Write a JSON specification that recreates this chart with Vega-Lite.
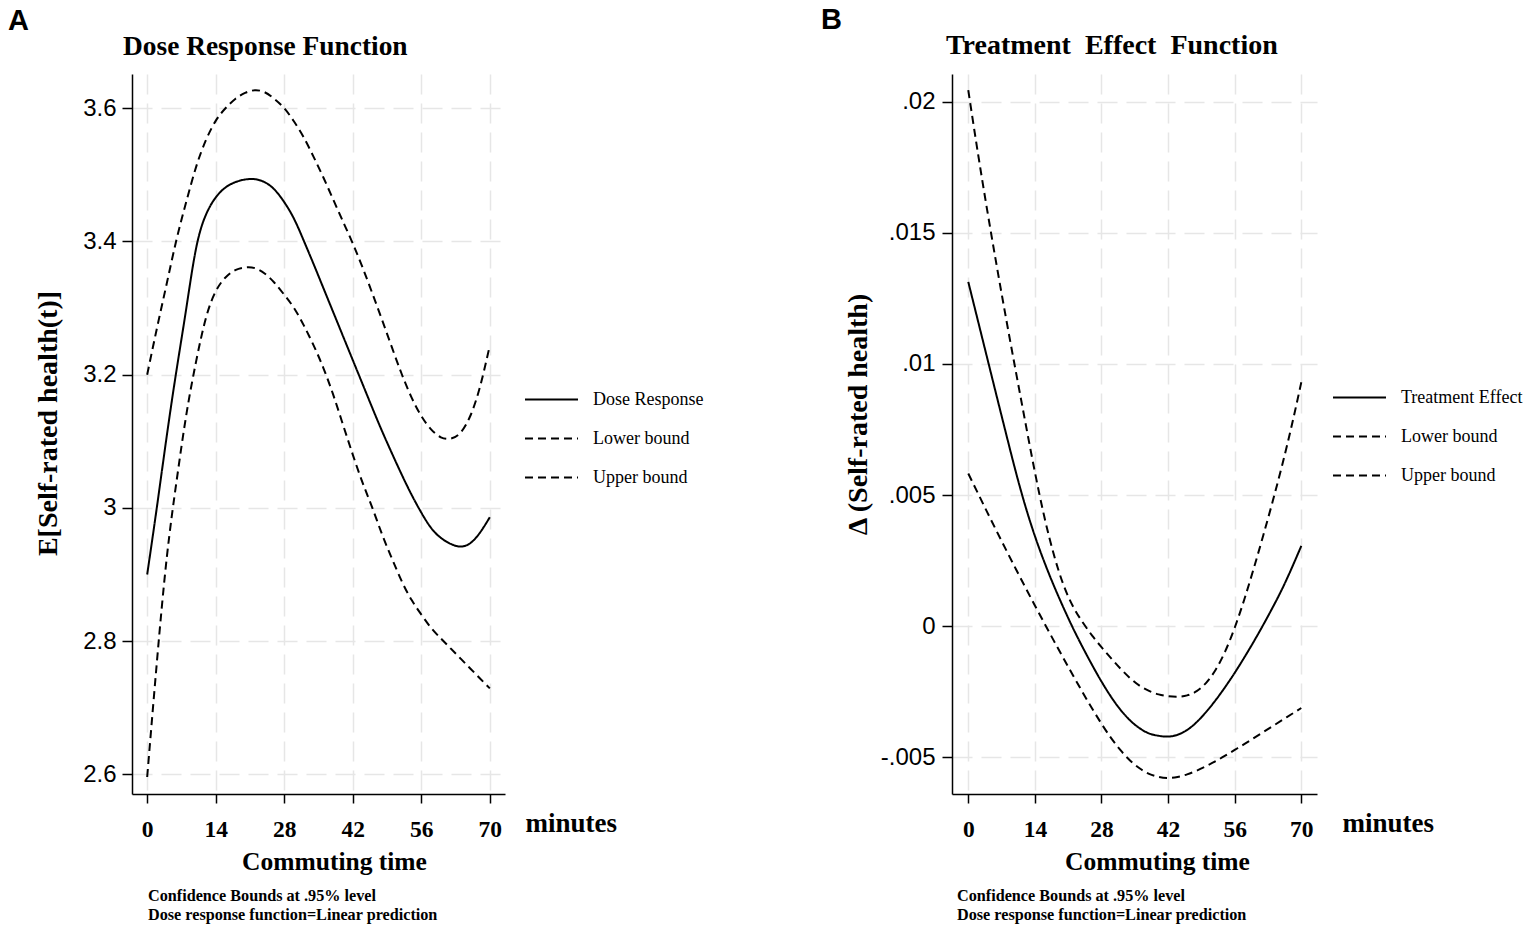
{
  "$schema": "https://vega.github.io/schema/vega-lite/v6.json",
  "background": "white",
  "padding": {"left": 8, "top": 6, "right": 5, "bottom": 0},
  "spacing": 117,
  "config": {
    "view": {"stroke": null},
    "font": "Liberation Serif",
    "axis": {
      "domainColor": "black",
      "domainWidth": 1.5,
      "tickColor": "black",
      "tickWidth": 1.5,
      "gridColor": "#e6e6e6",
      "gridDash": [20, 9],
      "gridWidth": 1.5,
      "titleFont": "Liberation Serif",
      "titleFontWeight": "bold",
      "titleColor": "black",
      "labelColor": "black"
    },
    "legend": {
      "orient": "none",
      "title": null,
      "symbolType": "stroke",
      "symbolSize": 2809,
      "symbolStrokeWidth": 2,
      "symbolStrokeColor": "black",
      "labelFont": "Liberation Serif",
      "labelFontSize": 18,
      "labelColor": "black",
      "labelOffset": 14,
      "rowPadding": 2
    },
    "title": {"color": "black", "font": "Liberation Serif", "fontWeight": "bold"}
  },
  "resolve": {"scale": {"strokeDash": "independent"}, "legend": {"strokeDash": "independent"}},
  "datasets": {
    "dr": [
      {"t": 0, "v": 2.900, "s": "Dose Response"}, {"t": 0, "v": 2.596, "s": "Lower bound"}, {"t": 0, "v": 3.200, "s": "Upper bound"},
      {"t": 2, "v": 3.002, "s": "Dose Response"}, {"t": 2, "v": 2.770, "s": "Lower bound"}, {"t": 2, "v": 3.270, "s": "Upper bound"},
      {"t": 4, "v": 3.108, "s": "Dose Response"}, {"t": 4, "v": 2.925, "s": "Lower bound"}, {"t": 4, "v": 3.337, "s": "Upper bound"},
      {"t": 6, "v": 3.207, "s": "Dose Response"}, {"t": 6, "v": 3.040, "s": "Lower bound"}, {"t": 6, "v": 3.403, "s": "Upper bound"},
      {"t": 8, "v": 3.300, "s": "Dose Response"}, {"t": 8, "v": 3.140, "s": "Lower bound"}, {"t": 8, "v": 3.460, "s": "Upper bound"},
      {"t": 10, "v": 3.390, "s": "Dose Response"}, {"t": 10, "v": 3.220, "s": "Lower bound"}, {"t": 10, "v": 3.512, "s": "Upper bound"},
      {"t": 12, "v": 3.440, "s": "Dose Response"}, {"t": 12, "v": 3.285, "s": "Lower bound"}, {"t": 12, "v": 3.552, "s": "Upper bound"},
      {"t": 14, "v": 3.466, "s": "Dose Response"}, {"t": 14, "v": 3.325, "s": "Lower bound"}, {"t": 14, "v": 3.581, "s": "Upper bound"},
      {"t": 16, "v": 3.481, "s": "Dose Response"}, {"t": 16, "v": 3.346, "s": "Lower bound"}, {"t": 16, "v": 3.600, "s": "Upper bound"},
      {"t": 18, "v": 3.489, "s": "Dose Response"}, {"t": 18, "v": 3.357, "s": "Lower bound"}, {"t": 18, "v": 3.614, "s": "Upper bound"},
      {"t": 20, "v": 3.493, "s": "Dose Response"}, {"t": 20, "v": 3.361, "s": "Lower bound"}, {"t": 20, "v": 3.623, "s": "Upper bound"},
      {"t": 22, "v": 3.4935, "s": "Dose Response"}, {"t": 22, "v": 3.360, "s": "Lower bound"}, {"t": 22, "v": 3.627, "s": "Upper bound"},
      {"t": 24, "v": 3.489, "s": "Dose Response"}, {"t": 24, "v": 3.352, "s": "Lower bound"}, {"t": 24, "v": 3.624, "s": "Upper bound"},
      {"t": 26, "v": 3.478, "s": "Dose Response"}, {"t": 26, "v": 3.338, "s": "Lower bound"}, {"t": 26, "v": 3.614, "s": "Upper bound"},
      {"t": 28, "v": 3.459, "s": "Dose Response"}, {"t": 28, "v": 3.320, "s": "Lower bound"}, {"t": 28, "v": 3.600, "s": "Upper bound"},
      {"t": 30, "v": 3.434, "s": "Dose Response"}, {"t": 30, "v": 3.300, "s": "Lower bound"}, {"t": 30, "v": 3.580, "s": "Upper bound"},
      {"t": 32, "v": 3.401, "s": "Dose Response"}, {"t": 32, "v": 3.274, "s": "Lower bound"}, {"t": 32, "v": 3.556, "s": "Upper bound"},
      {"t": 34, "v": 3.366, "s": "Dose Response"}, {"t": 34, "v": 3.244, "s": "Lower bound"}, {"t": 34, "v": 3.527, "s": "Upper bound"},
      {"t": 36, "v": 3.330, "s": "Dose Response"}, {"t": 36, "v": 3.210, "s": "Lower bound"}, {"t": 36, "v": 3.496, "s": "Upper bound"},
      {"t": 38, "v": 3.294, "s": "Dose Response"}, {"t": 38, "v": 3.170, "s": "Lower bound"}, {"t": 38, "v": 3.463, "s": "Upper bound"},
      {"t": 40, "v": 3.258, "s": "Dose Response"}, {"t": 40, "v": 3.125, "s": "Lower bound"}, {"t": 40, "v": 3.430, "s": "Upper bound"},
      {"t": 42, "v": 3.222, "s": "Dose Response"}, {"t": 42, "v": 3.080, "s": "Lower bound"}, {"t": 42, "v": 3.397, "s": "Upper bound"},
      {"t": 44, "v": 3.186, "s": "Dose Response"}, {"t": 44, "v": 3.038, "s": "Lower bound"}, {"t": 44, "v": 3.361, "s": "Upper bound"},
      {"t": 46, "v": 3.150, "s": "Dose Response"}, {"t": 46, "v": 3.000, "s": "Lower bound"}, {"t": 46, "v": 3.322, "s": "Upper bound"},
      {"t": 48, "v": 3.115, "s": "Dose Response"}, {"t": 48, "v": 2.960, "s": "Lower bound"}, {"t": 48, "v": 3.282, "s": "Upper bound"},
      {"t": 50, "v": 3.082, "s": "Dose Response"}, {"t": 50, "v": 2.924, "s": "Lower bound"}, {"t": 50, "v": 3.241, "s": "Upper bound"},
      {"t": 52, "v": 3.050, "s": "Dose Response"}, {"t": 52, "v": 2.890, "s": "Lower bound"}, {"t": 52, "v": 3.201, "s": "Upper bound"},
      {"t": 54, "v": 3.020, "s": "Dose Response"}, {"t": 54, "v": 2.862, "s": "Lower bound"}, {"t": 54, "v": 3.166, "s": "Upper bound"},
      {"t": 56, "v": 2.993, "s": "Dose Response"}, {"t": 56, "v": 2.840, "s": "Lower bound"}, {"t": 56, "v": 3.138, "s": "Upper bound"},
      {"t": 58, "v": 2.970, "s": "Dose Response"}, {"t": 58, "v": 2.820, "s": "Lower bound"}, {"t": 58, "v": 3.118, "s": "Upper bound"},
      {"t": 60, "v": 2.955, "s": "Dose Response"}, {"t": 60, "v": 2.804, "s": "Lower bound"}, {"t": 60, "v": 3.106, "s": "Upper bound"},
      {"t": 62, "v": 2.946, "s": "Dose Response"}, {"t": 62, "v": 2.789, "s": "Lower bound"}, {"t": 62, "v": 3.104, "s": "Upper bound"},
      {"t": 64, "v": 2.942, "s": "Dose Response"}, {"t": 64, "v": 2.774, "s": "Lower bound"}, {"t": 64, "v": 3.113, "s": "Upper bound"},
      {"t": 66, "v": 2.947, "s": "Dose Response"}, {"t": 66, "v": 2.759, "s": "Lower bound"}, {"t": 66, "v": 3.138, "s": "Upper bound"},
      {"t": 68, "v": 2.963, "s": "Dose Response"}, {"t": 68, "v": 2.744, "s": "Lower bound"}, {"t": 68, "v": 3.182, "s": "Upper bound"},
      {"t": 70, "v": 2.986, "s": "Dose Response"}, {"t": 70, "v": 2.729, "s": "Lower bound"}, {"t": 70, "v": 3.244, "s": "Upper bound"}
    ],
    "te": [
      {"t": 0, "v": 0.01313, "s": "Treatment Effect"}, {"t": 0, "v": 0.00582, "s": "Lower bound"}, {"t": 0, "v": 0.02044, "s": "Upper bound"},
      {"t": 2, "v": 0.01167, "s": "Treatment Effect"}, {"t": 2, "v": 0.00508, "s": "Lower bound"}, {"t": 2, "v": 0.01807, "s": "Upper bound"},
      {"t": 4, "v": 0.01021, "s": "Treatment Effect"}, {"t": 4, "v": 0.00434, "s": "Lower bound"}, {"t": 4, "v": 0.01584, "s": "Upper bound"},
      {"t": 6, "v": 0.00875, "s": "Treatment Effect"}, {"t": 6, "v": 0.00361, "s": "Lower bound"}, {"t": 6, "v": 0.01372, "s": "Upper bound"},
      {"t": 8, "v": 0.00730, "s": "Treatment Effect"}, {"t": 8, "v": 0.00289, "s": "Lower bound"}, {"t": 8, "v": 0.01168, "s": "Upper bound"},
      {"t": 10, "v": 0.00588, "s": "Treatment Effect"}, {"t": 10, "v": 0.00218, "s": "Lower bound"}, {"t": 10, "v": 0.00971, "s": "Upper bound"},
      {"t": 12, "v": 0.00458, "s": "Treatment Effect"}, {"t": 12, "v": 0.00148, "s": "Lower bound"}, {"t": 12, "v": 0.00777, "s": "Upper bound"},
      {"t": 14, "v": 0.00344, "s": "Treatment Effect"}, {"t": 14, "v": 0.00079, "s": "Lower bound"}, {"t": 14, "v": 0.00588, "s": "Upper bound"},
      {"t": 16, "v": 0.00244, "s": "Treatment Effect"}, {"t": 16, "v": 0.00011, "s": "Lower bound"}, {"t": 16, "v": 0.00416, "s": "Upper bound"},
      {"t": 18, "v": 0.00154, "s": "Treatment Effect"}, {"t": 18, "v": -0.00056, "s": "Lower bound"}, {"t": 18, "v": 0.00272, "s": "Upper bound"},
      {"t": 20, "v": 0.00071, "s": "Treatment Effect"}, {"t": 20, "v": -0.00122, "s": "Lower bound"}, {"t": 20, "v": 0.00158, "s": "Upper bound"},
      {"t": 22, "v": -0.00007, "s": "Treatment Effect"}, {"t": 22, "v": -0.00187, "s": "Lower bound"}, {"t": 22, "v": 0.00076, "s": "Upper bound"},
      {"t": 24, "v": -0.00079, "s": "Treatment Effect"}, {"t": 24, "v": -0.00251, "s": "Lower bound"}, {"t": 24, "v": 0.00016, "s": "Upper bound"},
      {"t": 26, "v": -0.00147, "s": "Treatment Effect"}, {"t": 26, "v": -0.00313, "s": "Lower bound"}, {"t": 26, "v": -0.00035, "s": "Upper bound"},
      {"t": 28, "v": -0.00211, "s": "Treatment Effect"}, {"t": 28, "v": -0.00372, "s": "Lower bound"}, {"t": 28, "v": -0.00080, "s": "Upper bound"},
      {"t": 30, "v": -0.00269, "s": "Treatment Effect"}, {"t": 30, "v": -0.00426, "s": "Lower bound"}, {"t": 30, "v": -0.00122, "s": "Upper bound"},
      {"t": 32, "v": -0.00319, "s": "Treatment Effect"}, {"t": 32, "v": -0.00473, "s": "Lower bound"}, {"t": 32, "v": -0.00162, "s": "Upper bound"},
      {"t": 34, "v": -0.00359, "s": "Treatment Effect"}, {"t": 34, "v": -0.00512, "s": "Lower bound"}, {"t": 34, "v": -0.00198, "s": "Upper bound"},
      {"t": 36, "v": -0.00389, "s": "Treatment Effect"}, {"t": 36, "v": -0.00542, "s": "Lower bound"}, {"t": 36, "v": -0.00227, "s": "Upper bound"},
      {"t": 38, "v": -0.00409, "s": "Treatment Effect"}, {"t": 38, "v": -0.00563, "s": "Lower bound"}, {"t": 38, "v": -0.00247, "s": "Upper bound"},
      {"t": 40, "v": -0.00418, "s": "Treatment Effect"}, {"t": 40, "v": -0.00575, "s": "Lower bound"}, {"t": 40, "v": -0.00260, "s": "Upper bound"},
      {"t": 42, "v": -0.00421, "s": "Treatment Effect"}, {"t": 42, "v": -0.00579, "s": "Lower bound"}, {"t": 42, "v": -0.00267, "s": "Upper bound"},
      {"t": 44, "v": -0.00414, "s": "Treatment Effect"}, {"t": 44, "v": -0.00575, "s": "Lower bound"}, {"t": 44, "v": -0.00269, "s": "Upper bound"},
      {"t": 46, "v": -0.00396, "s": "Treatment Effect"}, {"t": 46, "v": -0.00565, "s": "Lower bound"}, {"t": 46, "v": -0.00264, "s": "Upper bound"},
      {"t": 48, "v": -0.00366, "s": "Treatment Effect"}, {"t": 48, "v": -0.00551, "s": "Lower bound"}, {"t": 48, "v": -0.00248, "s": "Upper bound"},
      {"t": 50, "v": -0.00327, "s": "Treatment Effect"}, {"t": 50, "v": -0.00534, "s": "Lower bound"}, {"t": 50, "v": -0.00216, "s": "Upper bound"},
      {"t": 52, "v": -0.00282, "s": "Treatment Effect"}, {"t": 52, "v": -0.00515, "s": "Lower bound"}, {"t": 52, "v": -0.00166, "s": "Upper bound"},
      {"t": 54, "v": -0.00232, "s": "Treatment Effect"}, {"t": 54, "v": -0.00494, "s": "Lower bound"}, {"t": 54, "v": -0.00096, "s": "Upper bound"},
      {"t": 56, "v": -0.00178, "s": "Treatment Effect"}, {"t": 56, "v": -0.00472, "s": "Lower bound"}, {"t": 56, "v": -0.00006, "s": "Upper bound"},
      {"t": 58, "v": -0.00120, "s": "Treatment Effect"}, {"t": 58, "v": -0.00450, "s": "Lower bound"}, {"t": 58, "v": 0.00101, "s": "Upper bound"},
      {"t": 60, "v": -0.00059, "s": "Treatment Effect"}, {"t": 60, "v": -0.00427, "s": "Lower bound"}, {"t": 60, "v": 0.00220, "s": "Upper bound"},
      {"t": 62, "v": 0.00005, "s": "Treatment Effect"}, {"t": 62, "v": -0.00404, "s": "Lower bound"}, {"t": 62, "v": 0.00346, "s": "Upper bound"},
      {"t": 64, "v": 0.00072, "s": "Treatment Effect"}, {"t": 64, "v": -0.00381, "s": "Lower bound"}, {"t": 64, "v": 0.00477, "s": "Upper bound"},
      {"t": 66, "v": 0.00143, "s": "Treatment Effect"}, {"t": 66, "v": -0.00358, "s": "Lower bound"}, {"t": 66, "v": 0.00616, "s": "Upper bound"},
      {"t": 68, "v": 0.00222, "s": "Treatment Effect"}, {"t": 68, "v": -0.00335, "s": "Lower bound"}, {"t": 68, "v": 0.00766, "s": "Upper bound"},
      {"t": 70, "v": 0.00306, "s": "Treatment Effect"}, {"t": 70, "v": -0.00312, "s": "Lower bound"}, {"t": 70, "v": 0.00930, "s": "Upper bound"}
    ]
  },
  "hconcat": [
    {
      "title": {"text": "A", "anchor": "start", "frame": "bounds", "font": "Liberation Sans", "fontSize": 29, "fontWeight": "bold", "dx": -26, "offset": -3},
      "resolve": {"scale": {"strokeDash": "independent"}, "legend": {"strokeDash": "independent"}},
      "vconcat": [
        {
          "title": {"text": ["Confidence Bounds at .95% level", "Dose response function=Linear prediction"], "orient": "bottom", "anchor": "start", "frame": "bounds", "fontSize": 16.2, "fontWeight": "bold", "lineHeight": 19.5, "dx": 114, "offset": 13},
          "resolve": {"scale": {"strokeDash": "independent"}, "legend": {"strokeDash": "independent"}},
          "vconcat": [
            {
              "width": 373,
              "height": 720,
              "title": {"text": "Dose Response Function", "anchor": "start", "frame": "group", "fontSize": 27.4, "fontWeight": "bold", "dx": -9, "offset": 14},
              "data": {"name": "dr"},
              "resolve": {"axis": {"x": "independent", "y": "independent"}},
              "layer": [
                {
                  "mark": {"type": "line", "color": "black", "strokeWidth": 2, "interpolate": "natural"},
                  "encoding": {
                    "x": {
                      "field": "t", "type": "quantitative",
                      "scale": {"domain": [-3.1, 73.1], "nice": false, "zero": false},
                      "axis": {"orient": "bottom", "values": [0, 14, 28, 42, 56, 70], "title": "Commuting time", "titleFontSize": 25.5, "titleX": 202, "titleY": 75, "titleBaseline": "alphabetic", "labelFont": "Liberation Serif", "labelFontWeight": "bold", "labelFontSize": 23.5, "tickSize": 9, "labelPadding": 14, "grid": true}
                    },
                    "y": {
                      "field": "v", "type": "quantitative",
                      "scale": {"domain": [2.5705, 3.6514], "nice": false, "zero": false},
                      "axis": {"orient": "left", "values": [2.6, 2.8, 3, 3.2, 3.4, 3.6], "format": "~g", "title": "E[Self-rated health(t)]", "titleFontSize": 28, "titleX": -84, "titleY": 349, "titleBaseline": "middle", "labelFont": "Liberation Sans", "labelFontSize": 24, "tickSize": 10, "labelPadding": 6, "grid": true}
                    },
                    "strokeDash": {
                      "field": "s", "type": "nominal",
                      "scale": {"domain": ["Dose Response", "Lower bound", "Upper bound"], "range": [[1, 0], [8, 5], [8, 5]]},
                      "legend": {"legendX": 392, "legendY": 298}
                    }
                  }
                },
                {
                  "mark": {"type": "line", "strokeOpacity": 0},
                  "encoding": {
                    "x": {
                      "field": "t", "type": "quantitative",
                      "axis": {"orient": "top", "labels": false, "ticks": false, "domain": false, "grid": false, "title": "minutes", "titleFontSize": 27, "titleX": 393, "titleY": 757, "titleAlign": "left", "titleBaseline": "alphabetic"}
                    },
                    "y": {"field": "v", "type": "quantitative", "axis": null},
                    "detail": {"field": "s", "type": "nominal"}
                  }
                }
              ]
            }
          ]
        }
      ]
    },
    {
      "title": {"text": "B", "anchor": "start", "frame": "bounds", "font": "Liberation Sans", "fontSize": 29, "fontWeight": "bold", "dx": -23, "offset": -3},
      "resolve": {"scale": {"strokeDash": "independent"}, "legend": {"strokeDash": "independent"}},
      "vconcat": [
        {
          "title": {"text": ["Confidence Bounds at .95% level", "Dose response function=Linear prediction"], "orient": "bottom", "anchor": "start", "frame": "bounds", "fontSize": 16.2, "fontWeight": "bold", "lineHeight": 19.5, "dx": 113, "offset": 13},
          "resolve": {"scale": {"strokeDash": "independent"}, "legend": {"strokeDash": "independent"}},
          "vconcat": [
            {
              "width": 365,
              "height": 720,
              "title": {"text": "Treatment\u00a0 Effect\u00a0 Function", "anchor": "start", "frame": "group", "fontSize": 28, "fontWeight": "bold", "dx": -6, "offset": 14},
              "data": {"name": "te"},
              "resolve": {"axis": {"x": "independent", "y": "independent"}},
              "layer": [
                {
                  "mark": {"type": "line", "color": "black", "strokeWidth": 2, "interpolate": "natural"},
                  "encoding": {
                    "x": {
                      "field": "t", "type": "quantitative",
                      "scale": {"domain": [-3.42, 73.3], "nice": false, "zero": false},
                      "axis": {"orient": "bottom", "values": [0, 14, 28, 42, 56, 70], "title": "Commuting time", "titleFontSize": 25.5, "titleX": 205, "titleY": 75, "titleBaseline": "alphabetic", "labelFont": "Liberation Serif", "labelFontWeight": "bold", "labelFontSize": 23.5, "tickSize": 9, "labelPadding": 14, "grid": true}
                    },
                    "y": {
                      "field": "v", "type": "quantitative",
                      "scale": {"domain": [-0.0064, 0.021057], "nice": false, "zero": false},
                      "axis": {"orient": "left", "values": [-0.005, 0, 0.005, 0.01, 0.015, 0.02], "labelExpr": "replace(replace(format(datum.value, '~g'), '\u2212', '-'), '0.', '.')", "title": "\u0394 (Self-rated health)", "titleFontSize": 28, "titleX": -94, "titleY": 340, "titleBaseline": "middle", "labelFont": "Liberation Sans", "labelFontSize": 24, "tickSize": 10, "labelPadding": 7, "grid": true}
                    },
                    "strokeDash": {
                      "field": "s", "type": "nominal",
                      "scale": {"domain": ["Treatment Effect", "Lower bound", "Upper bound"], "range": [[1, 0], [8, 5], [8, 5]]},
                      "legend": {"legendX": 380, "legendY": 296}
                    }
                  }
                },
                {
                  "mark": {"type": "line", "strokeOpacity": 0},
                  "encoding": {
                    "x": {
                      "field": "t", "type": "quantitative",
                      "axis": {"orient": "top", "labels": false, "ticks": false, "domain": false, "grid": false, "title": "minutes", "titleFontSize": 27, "titleX": 390, "titleY": 757, "titleAlign": "left", "titleBaseline": "alphabetic"}
                    },
                    "y": {"field": "v", "type": "quantitative", "axis": null},
                    "detail": {"field": "s", "type": "nominal"}
                  }
                }
              ]
            }
          ]
        }
      ]
    }
  ]
}
